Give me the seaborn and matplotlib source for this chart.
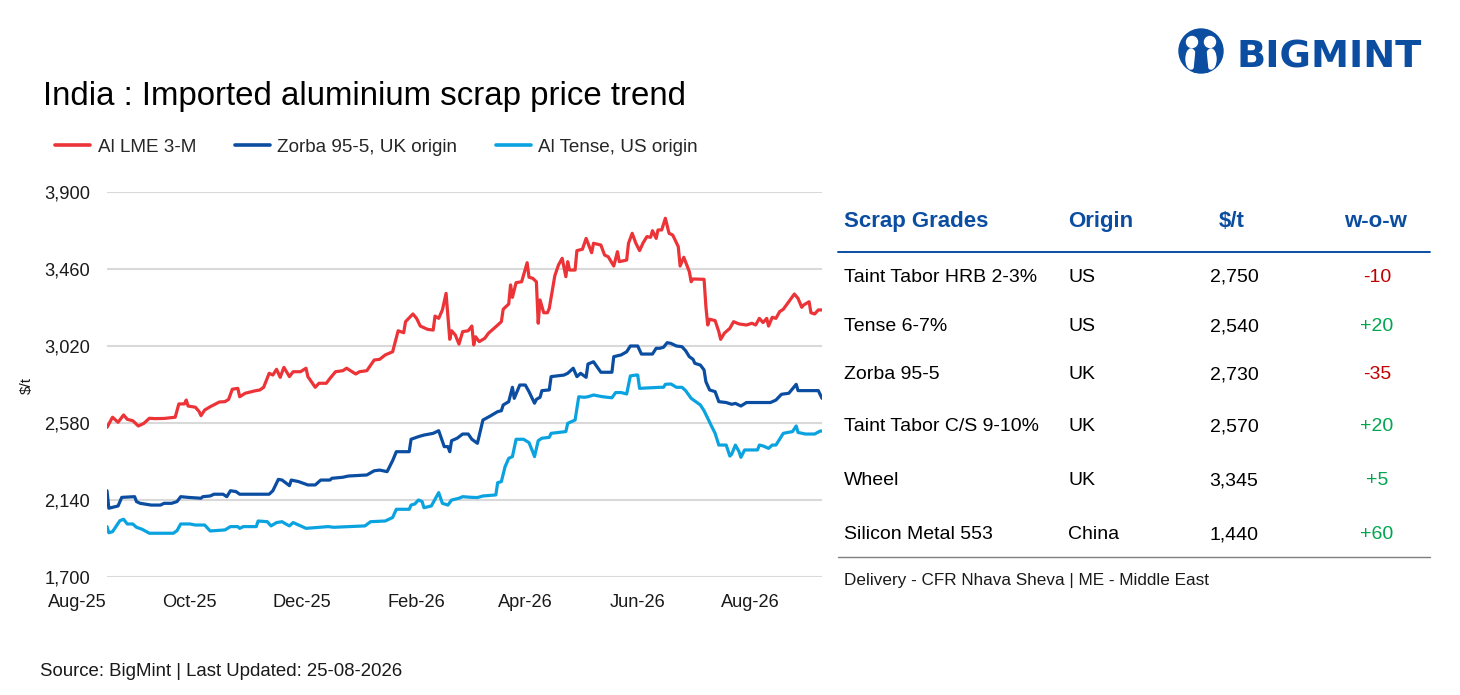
import numpy as np
import pandas as pd
import matplotlib
matplotlib.use("Agg")
import matplotlib.pyplot as plt
import seaborn as sns
from matplotlib import font_manager
from matplotlib.patches import Circle, Ellipse, Polygon

# days counted from 2025-08-01, prices in $/t
lme_days = [16, 19, 22, 25, 27, 30, 33, 36, 39, 42, 47, 53, 55, 58, 59, 60, 64, 66, 67, 69, 72, 77, 80, 82, 84,
            87, 88, 91, 96, 99, 101, 104, 106, 108, 110, 112, 115, 117, 121, 124, 125, 129, 131, 135, 137, 140,
            144, 146, 151, 153, 157, 161, 164, 167, 171, 174, 177, 178, 182, 184, 186, 190, 193, 194, 196, 198,
            200, 202, 203, 205, 207, 209, 212, 214, 215, 216, 218, 221, 223, 227, 230, 231, 234, 235, 236, 238,
            241, 244, 245, 247, 249, 250, 251, 253, 255, 256, 259, 261, 263, 265, 266, 267, 270, 271, 274, 276,
            279, 280, 284, 286, 288, 291, 293, 294, 298, 299, 301, 303, 305, 307, 309, 311, 312, 314, 315, 317,
            319, 321, 323, 326, 327, 329, 332, 333, 334, 340, 341, 342, 343, 346, 348, 349, 351, 354, 356, 359,
            363, 366, 368, 370, 372, 374, 375, 377, 379, 381, 383, 386, 389, 391, 393, 394, 397, 398, 400, 402, 404]
lme_vals = [2555, 2613, 2584, 2626, 2601, 2593, 2563, 2578, 2607, 2605, 2606, 2613, 2689, 2689, 2711, 2677, 2670,
            2645, 2622, 2654, 2673, 2700, 2702, 2715, 2773, 2778, 2730, 2750, 2763, 2769, 2784, 2864, 2854, 2887,
            2841, 2898, 2845, 2873, 2873, 2893, 2845, 2784, 2807, 2807, 2835, 2873, 2879, 2893, 2860, 2873, 2879,
            2940, 2944, 2969, 2987, 3107, 3096, 3159, 3203, 3178, 3134, 3115, 3111, 3191, 3178, 3226, 3321, 3058,
            3107, 3083, 3031, 3102, 3107, 3134, 3026, 3073, 3045, 3064, 3093, 3130, 3159, 3230, 3260, 3369, 3298,
            3382, 3387, 3496, 3413, 3407, 3387, 3150, 3283, 3210, 3210, 3235, 3421, 3483, 3521, 3416, 3502, 3454,
            3454, 3565, 3573, 3635, 3553, 3607, 3597, 3540, 3530, 3477, 3559, 3502, 3511, 3607, 3664, 3607, 3565,
            3611, 3645, 3641, 3679, 3635, 3683, 3683, 3750, 3664, 3654, 3588, 3477, 3527, 3445, 3387, 3403, 3401,
            3245, 3140, 3173, 3165, 3102, 3058, 3093, 3121, 3159, 3146, 3140, 3150, 3140, 3178, 3154, 3178, 3134,
            3184, 3178, 3216, 3230, 3273, 3317, 3292, 3241, 3254, 3273, 3210, 3203, 3226, 3226]

zorba_days = [16, 17, 22, 24, 31, 32, 34, 40, 45, 47, 51, 54, 56, 60, 67, 68, 72, 74, 79, 81, 83, 86, 88, 104, 106,
              109, 111, 115, 116, 120, 125, 129, 132, 137, 138, 144, 147, 157, 161, 164, 168, 171, 173, 180, 181,
              185, 188, 193, 196, 199, 201, 202, 203, 206, 209, 212, 214, 217, 220, 224, 228, 230, 231, 234, 236,
              237, 240, 243, 245, 248, 249, 251, 252, 256, 257, 264, 266, 269, 271, 273, 276, 277, 280, 284, 290,
              291, 295, 298, 300, 304, 306, 312, 314, 316, 318, 320, 322, 325, 328, 330, 332, 334, 335, 338, 340,
              341, 343, 346, 348, 352, 355, 357, 360, 363, 376, 379, 382, 386, 390, 391, 402, 404]
zorba_vals = [2193, 2093, 2106, 2155, 2159, 2131, 2121, 2111, 2111, 2121, 2121, 2131, 2159, 2155, 2150, 2159, 2163,
              2173, 2173, 2159, 2193, 2188, 2173, 2173, 2193, 2258, 2254, 2222, 2254, 2245, 2226, 2226, 2254, 2254,
              2264, 2270, 2277, 2283, 2307, 2311, 2302, 2365, 2416, 2416, 2487, 2502, 2511, 2521, 2536, 2445, 2445,
              2416, 2479, 2493, 2517, 2517, 2487, 2464, 2597, 2620, 2645, 2650, 2683, 2702, 2784, 2721, 2797, 2797,
              2759, 2693, 2715, 2727, 2765, 2769, 2845, 2854, 2864, 2893, 2845, 2864, 2841, 2917, 2930, 2870, 2870,
              2959, 2969, 2987, 3020, 3020, 2974, 2974, 3007, 3007, 3013, 3039, 3035, 3020, 3016, 2993, 2959, 2944,
              2921, 2911, 2883, 2816, 2769, 2759, 2702, 2697, 2687, 2692, 2677, 2697, 2697, 2711, 2744, 2750, 2801,
              2765, 2765, 2721]

tense_days = [16, 17, 19, 23, 25, 27, 30, 32, 35, 39, 52, 54, 56, 61, 64, 69, 72, 80, 83, 87, 88, 90, 97, 98, 103,
              105, 108, 111, 113, 115, 117, 120, 124, 136, 139, 156, 159, 167, 171, 173, 180, 181, 183, 185, 187,
              188, 192, 194, 196, 198, 201, 203, 207, 209, 214, 217, 220, 227, 228, 230, 232, 234, 236, 238, 242,
              245, 247, 248, 250, 252, 256, 257, 265, 266, 270, 272, 275, 277, 280, 285, 290, 292, 295, 298, 300,
              303, 304, 305, 316, 318, 319, 322, 325, 328, 330, 333, 338, 340, 342, 344, 346, 348, 352, 354, 355,
              357, 359, 360, 362, 369, 370, 372, 375, 377, 379, 383, 388, 390, 391, 395, 400, 403, 404]
tense_vals = [1988, 1953, 1959, 2022, 2030, 2003, 2003, 1984, 1973, 1950, 1950, 1965, 2003, 2003, 1997, 1997, 1963,
              1969, 1988, 1988, 1978, 1988, 1988, 2020, 2016, 1992, 2011, 2016, 2003, 1992, 2011, 1997, 1978, 1988,
              1984, 1992, 2016, 2020, 2040, 2087, 2087, 2111, 2117, 2140, 2131, 2096, 2106, 2144, 2182, 2121, 2111,
              2140, 2150, 2159, 2155, 2154, 2163, 2169, 2239, 2245, 2330, 2378, 2388, 2487, 2487, 2468, 2416, 2388,
              2479, 2493, 2498, 2521, 2531, 2578, 2597, 2730, 2727, 2730, 2740, 2730, 2724, 2754, 2754, 2746, 2849,
              2854, 2854, 2778, 2784, 2784, 2801, 2803, 2784, 2784, 2765, 2721, 2683, 2650, 2607, 2563, 2521, 2454,
              2454, 2391, 2402, 2454, 2416, 2384, 2426, 2426, 2454, 2449, 2435, 2454, 2454, 2521, 2531, 2563, 2526,
              2517, 2517, 2534, 2534]

series_names = ["Al LME 3-M", "Zorba 95-5, UK origin", "Al Tense, US origin"]
series_colors = ["#EC3338", "#0B4DA1", "#0AA3E0"]
y_ticks = [1700, 2140, 2580, 3020, 3460, 3900]

grades = ["Taint Tabor HRB 2-3%", "Tense 6-7%", "Zorba 95-5", "Taint Tabor C/S 9-10%", "Wheel", "Silicon Metal 553"]
origins = ["US", "US", "UK", "UK", "UK", "China"]
prices = [2750, 2540, 2730, 2570, 3345, 1440]
wow = [-10, 20, -35, 20, 5, 60]

start = pd.Timestamp("2025-08-01")
frames = []
for name, d, v in zip(series_names, [lme_days, zorba_days, tense_days], [lme_vals, zorba_vals, tense_vals]):
    frames.append(pd.DataFrame({"date": start + pd.to_timedelta(d, unit="D"), "price": v, "series": name}))
df = pd.concat(frames, ignore_index=True)

sns.set_style("white")
names = {f.name for f in font_manager.fontManager.ttflist}
NARROW = "Liberation Sans Narrow" in names
BODY = "Liberation Sans Narrow" if NARROW else "Liberation Sans"
k = 1.0 if NARROW else 0.85
plt.rcParams["font.family"] = [BODY, "DejaVu Sans"]

BLUE = "#0B4DA1"
fig = plt.figure(figsize=(14.6, 6.95), dpi=100)
fig.patch.set_facecolor("white")
ax = fig.add_axes([107 / 1460, 1 - 577 / 695, 715 / 1460, 385 / 695])

sns.lineplot(data=df, x="date", y="price", hue="series", hue_order=series_names,
             palette=series_colors, linewidth=2.3, estimator=None, ax=ax)
handles, labels = ax.get_legend_handles_labels()
ax.get_legend().remove()

ax.set_xlim(start + pd.Timedelta(days=16), start + pd.Timedelta(days=404))
ax.set_ylim(1700, 3900)
ax.set_yticks(y_ticks)
ax.set_yticklabels([f"{t:,}" for t in y_ticks], fontsize=15.5 * k, color="#1a1a1a")
ax.tick_params(axis="y", length=0, pad=12)
ax.set_xticks([])
ax.set_xlabel("")
ax.set_ylabel("")
for t in y_ticks:
    ax.axhline(t, color="#d9d9d9", lw=1.5, zorder=0)
for s in ax.spines.values():
    s.set_visible(False)
for m in pd.date_range("2025-08-01", periods=7, freq="2MS"):
    ax.text(m, -0.043, m.strftime("%b-%y"), transform=ax.get_xaxis_transform(),
            ha="center", va="top", fontsize=15.5 * k, color="#1a1a1a", clip_on=False)

for h in handles:
    h.set_linewidth(2.6)
fig.legend(handles, labels, loc="center left", bbox_to_anchor=(55 / 1460, 1 - 147 / 695), ncol=3,
           frameon=False, fontsize=16 * k, handlelength=1.85, handletextpad=0.4, columnspacing=2.05,
           borderaxespad=0, borderpad=0)

# overlay in pixel coordinates for text, table and logo
ov = fig.add_axes([0, 0, 1, 1])
ov.set_xlim(0, 1460)
ov.set_ylim(695, 0)
ov.axis("off")

ov.text(43, 105, "India : Imported aluminium scrap price trend", fontsize=23.8,
        family="Liberation Sans", color="black", va="baseline")
ov.text(27, 385, "$/t", rotation=90, fontsize=13 * k, ha="center", va="center", color="#1a1a1a")
ov.text(40, 676, "Source: BigMint | Last Updated: 25-08-2026", fontsize=13.4, va="baseline", color="#1a1a1a")

# table
hdr = dict(fontsize=16, family="Liberation Sans", weight="bold", color=BLUE, va="baseline")
ov.text(844, 227, "Scrap Grades", ha="left", **hdr)
ov.text(1068, 227, "Origin", ha="left", **hdr)
ov.text(1232, 227, "$/t", ha="center", **hdr)
ov.text(1375, 227, "w-o-w", ha="center", **hdr)
ov.plot([838, 1430], [252, 252], color=BLUE, lw=1.4)
ov.plot([838, 1430], [557, 557], color="#7f7f7f", lw=1.0)
row_y = [282, 331, 379, 431, 485, 539]
for y, g, o, p, w in zip(row_y, grades, origins, prices, wow):
    ov.text(844, y, g, fontsize=16.5 * k, va="baseline", color="black")
    ov.text(1068, y, o, fontsize=16.5 * k, va="baseline", color="black")
    ov.text(1234, y, f"{p:,}", fontsize=16.5 * k, va="baseline", ha="center", color="black")
    ov.text(1377, y, f"{w:+d}", fontsize=16.5 * k, va="baseline", ha="center",
            color="#C00000" if w < 0 else "#00A64F")
ov.text(844, 585, "Delivery - CFR Nhava Sheva | ME - Middle East", fontsize=12.3, va="baseline", color="#1a1a1a")

# logo
ov.add_patch(Circle((1201, 51), 22, color=BLUE))
ov.add_patch(Circle((1192, 42), 5.5, color="white"))
ov.add_patch(Circle((1210, 42), 5.5, color="white"))
ov.add_patch(Ellipse((1191, 59), 10, 20, color="white"))
ov.add_patch(Ellipse((1211, 59), 10, 20, color="white"))
ov.add_patch(Polygon([[1194, 72], [1196, 52], [1201, 62], [1206, 52], [1208, 72]], closed=True, color=BLUE))
ov.text(1237, 68, "BIGMINT", fontsize=27.5, family="DejaVu Sans", weight="bold", color=BLUE, va="baseline")

fig.savefig("out.png", dpi=100)
